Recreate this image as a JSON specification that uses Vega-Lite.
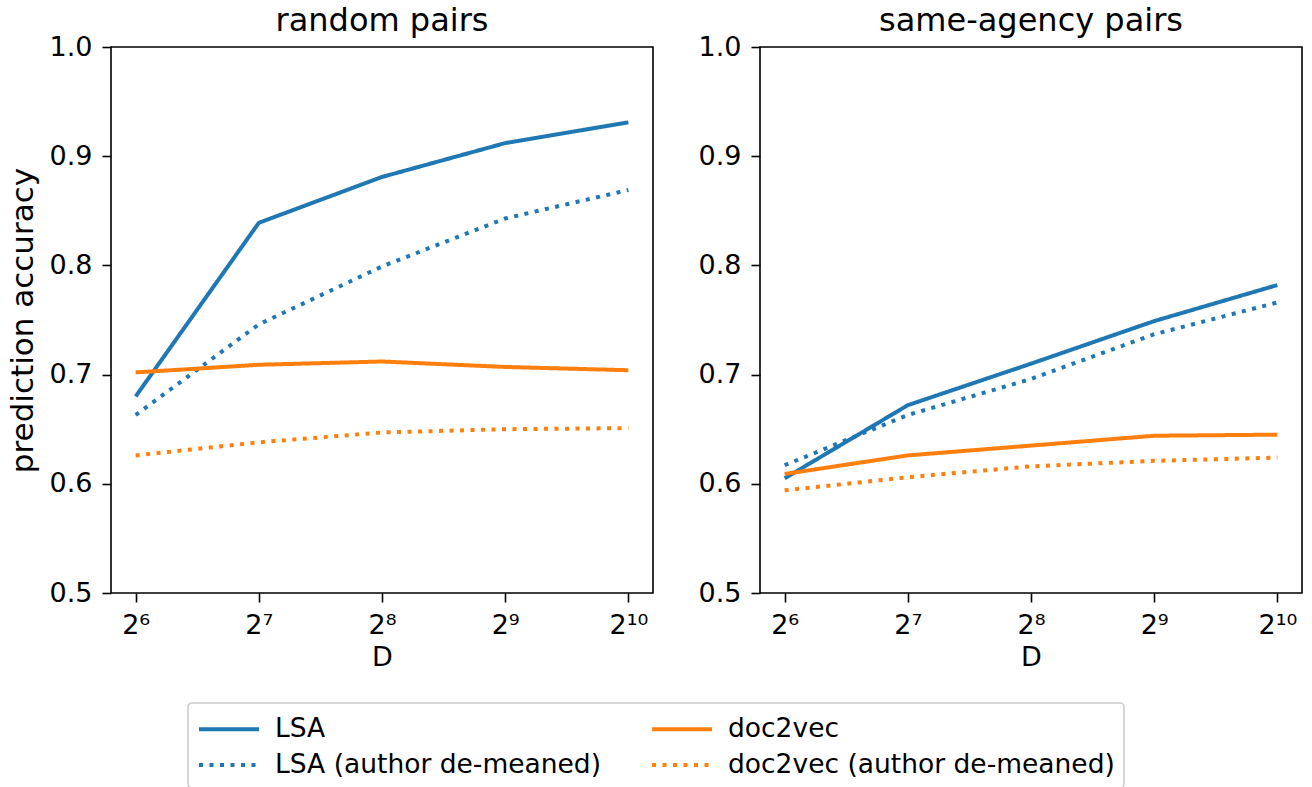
{
  "$schema": "https://vega.github.io/schema/vega-lite/v6.json",
  "background": "white",
  "padding": {"left": 6, "top": 4, "right": 5, "bottom": 0},
  "spacing": 43,
  "data": {
    "values": [
      {"panel": "random pairs", "series": "LSA", "D": 64, "accuracy": 0.680},
      {"panel": "random pairs", "series": "LSA", "D": 128, "accuracy": 0.839},
      {"panel": "random pairs", "series": "LSA", "D": 256, "accuracy": 0.881},
      {"panel": "random pairs", "series": "LSA", "D": 512, "accuracy": 0.912},
      {"panel": "random pairs", "series": "LSA", "D": 1024, "accuracy": 0.931},
      {"panel": "random pairs", "series": "LSA (author de-meaned)", "D": 64, "accuracy": 0.663},
      {"panel": "random pairs", "series": "LSA (author de-meaned)", "D": 128, "accuracy": 0.746},
      {"panel": "random pairs", "series": "LSA (author de-meaned)", "D": 256, "accuracy": 0.799},
      {"panel": "random pairs", "series": "LSA (author de-meaned)", "D": 512, "accuracy": 0.843},
      {"panel": "random pairs", "series": "LSA (author de-meaned)", "D": 1024, "accuracy": 0.869},
      {"panel": "random pairs", "series": "doc2vec", "D": 64, "accuracy": 0.702},
      {"panel": "random pairs", "series": "doc2vec", "D": 128, "accuracy": 0.709},
      {"panel": "random pairs", "series": "doc2vec", "D": 256, "accuracy": 0.712},
      {"panel": "random pairs", "series": "doc2vec", "D": 512, "accuracy": 0.707},
      {"panel": "random pairs", "series": "doc2vec", "D": 1024, "accuracy": 0.704},
      {"panel": "random pairs", "series": "doc2vec (author de-meaned)", "D": 64, "accuracy": 0.626},
      {"panel": "random pairs", "series": "doc2vec (author de-meaned)", "D": 128, "accuracy": 0.638},
      {"panel": "random pairs", "series": "doc2vec (author de-meaned)", "D": 256, "accuracy": 0.647},
      {"panel": "random pairs", "series": "doc2vec (author de-meaned)", "D": 512, "accuracy": 0.650},
      {"panel": "random pairs", "series": "doc2vec (author de-meaned)", "D": 1024, "accuracy": 0.651},
      {"panel": "same-agency pairs", "series": "LSA", "D": 64, "accuracy": 0.605},
      {"panel": "same-agency pairs", "series": "LSA", "D": 128, "accuracy": 0.672},
      {"panel": "same-agency pairs", "series": "LSA", "D": 256, "accuracy": 0.710},
      {"panel": "same-agency pairs", "series": "LSA", "D": 512, "accuracy": 0.749},
      {"panel": "same-agency pairs", "series": "LSA", "D": 1024, "accuracy": 0.782},
      {"panel": "same-agency pairs", "series": "LSA (author de-meaned)", "D": 64, "accuracy": 0.617},
      {"panel": "same-agency pairs", "series": "LSA (author de-meaned)", "D": 128, "accuracy": 0.663},
      {"panel": "same-agency pairs", "series": "LSA (author de-meaned)", "D": 256, "accuracy": 0.696},
      {"panel": "same-agency pairs", "series": "LSA (author de-meaned)", "D": 512, "accuracy": 0.737},
      {"panel": "same-agency pairs", "series": "LSA (author de-meaned)", "D": 1024, "accuracy": 0.766},
      {"panel": "same-agency pairs", "series": "doc2vec", "D": 64, "accuracy": 0.609},
      {"panel": "same-agency pairs", "series": "doc2vec", "D": 128, "accuracy": 0.626},
      {"panel": "same-agency pairs", "series": "doc2vec", "D": 256, "accuracy": 0.635},
      {"panel": "same-agency pairs", "series": "doc2vec", "D": 512, "accuracy": 0.644},
      {"panel": "same-agency pairs", "series": "doc2vec", "D": 1024, "accuracy": 0.645},
      {"panel": "same-agency pairs", "series": "doc2vec (author de-meaned)", "D": 64, "accuracy": 0.594},
      {"panel": "same-agency pairs", "series": "doc2vec (author de-meaned)", "D": 128, "accuracy": 0.606},
      {"panel": "same-agency pairs", "series": "doc2vec (author de-meaned)", "D": 256, "accuracy": 0.616},
      {"panel": "same-agency pairs", "series": "doc2vec (author de-meaned)", "D": 512, "accuracy": 0.621},
      {"panel": "same-agency pairs", "series": "doc2vec (author de-meaned)", "D": 1024, "accuracy": 0.624}
    ]
  },
  "hconcat": [
    {
      "title": "random pairs",
      "width": 542,
      "height": 546,
      "transform": [{"filter": "datum.panel === 'random pairs'"}],
      "mark": {"type": "line", "strokeWidth": 4, "strokeCap": "butt"},
      "encoding": {
        "x": {"field": "D", "type": "quantitative", "title": "D",
              "scale": {"type": "log", "base": 2, "domain": [55.715, 1176.27], "nice": false},
              "axis": {"values": [64, 128, 256, 512, 1024],
                       "labelExpr": "datum.value == 64 ? '2⁶' : datum.value == 128 ? '2⁷' : datum.value == 256 ? '2⁸' : datum.value == 512 ? '2⁹' : '2¹⁰'"}},
        "y": {"field": "accuracy", "type": "quantitative", "title": "prediction accuracy",
              "scale": {"domain": [0.5, 1.0], "nice": false, "zero": false},
              "axis": {"values": [0.5, 0.6, 0.7, 0.8, 0.9, 1.0], "format": ".1f"}},
        "color": {"field": "series", "type": "nominal",
                  "scale": {"domain": ["LSA", "LSA (author de-meaned)", "doc2vec", "doc2vec (author de-meaned)"],
                            "range": ["#1f77b4", "#1f77b4", "#ff7f0e", "#ff7f0e"]},
                  "legend": {"orient": "none", "legendX": 77, "legendY": 656, "columns": 2, "title": null}},
        "strokeDash": {"field": "series", "type": "nominal",
                       "scale": {"domain": ["LSA", "LSA (author de-meaned)", "doc2vec", "doc2vec (author de-meaned)"],
                                 "range": [[1, 0], [4, 6.5], [1, 0], [4, 6.5]]},
                       "legend": {"orient": "none", "legendX": 77, "legendY": 656, "columns": 2, "title": null}}
      }
    },
    {
      "title": "same-agency pairs",
      "width": 542,
      "height": 546,
      "transform": [{"filter": "datum.panel === 'same-agency pairs'"}],
      "mark": {"type": "line", "strokeWidth": 4, "strokeCap": "butt"},
      "encoding": {
        "x": {"field": "D", "type": "quantitative", "title": "D",
              "scale": {"type": "log", "base": 2, "domain": [55.715, 1176.27], "nice": false},
              "axis": {"values": [64, 128, 256, 512, 1024],
                       "labelExpr": "datum.value == 64 ? '2⁶' : datum.value == 128 ? '2⁷' : datum.value == 256 ? '2⁸' : datum.value == 512 ? '2⁹' : '2¹⁰'"}},
        "y": {"field": "accuracy", "type": "quantitative", "title": null,
              "scale": {"domain": [0.5, 1.0], "nice": false, "zero": false},
              "axis": {"values": [0.5, 0.6, 0.7, 0.8, 0.9, 1.0], "format": ".1f"}},
        "color": {"field": "series", "type": "nominal",
                  "scale": {"domain": ["LSA", "LSA (author de-meaned)", "doc2vec", "doc2vec (author de-meaned)"],
                            "range": ["#1f77b4", "#1f77b4", "#ff7f0e", "#ff7f0e"]},
                  "legend": {"orient": "none", "legendX": 77, "legendY": 656, "columns": 2, "title": null}},
        "strokeDash": {"field": "series", "type": "nominal",
                       "scale": {"domain": ["LSA", "LSA (author de-meaned)", "doc2vec", "doc2vec (author de-meaned)"],
                                 "range": [[1, 0], [4, 6.5], [1, 0], [4, 6.5]]},
                       "legend": {"orient": "none", "legendX": 77, "legendY": 656, "columns": 2, "title": null}}
      }
    }
  ],
  "config": {
    "font": "DejaVu Sans",
    "view": {"stroke": "black", "strokeWidth": 1.6},
    "title": {"fontSize": 32, "fontWeight": "normal", "color": "black", "offset": -5, "font": "DejaVu Sans"},
    "axis": {
      "grid": false,
      "domain": false,
      "ticks": true,
      "tickColor": "black",
      "tickWidth": 1.6,
      "tickSize": 9,
      "labelFont": "DejaVu Sans",
      "labelFontSize": 27,
      "labelColor": "black",
      "labelPadding": 10,
      "titleFont": "DejaVu Sans",
      "titleFontWeight": "normal",
      "titleColor": "black"
    },
    "axisX": {"titleFontSize": 27, "titlePadding": 6, "labelFlush": false},
    "axisY": {"titleFontSize": 31, "titlePadding": 10, "labelFlush": false},
    "legend": {
      "symbolType": "M-1,0H3",
      "symbolSize": 900,
      "symbolStrokeWidth": 4,
      "labelFont": "DejaVu Sans",
      "labelFontSize": 26.5,
      "labelColor": "black",
      "labelOffset": 44,
      "labelLimit": 600,
      "padding": 9,
      "rowPadding": 5,
      "columnPadding": 42,
      "strokeColor": "#cccccc",
      "strokeWidth": 1.6,
      "cornerRadius": 4,
      "fillColor": "white"
    }
  }
}
